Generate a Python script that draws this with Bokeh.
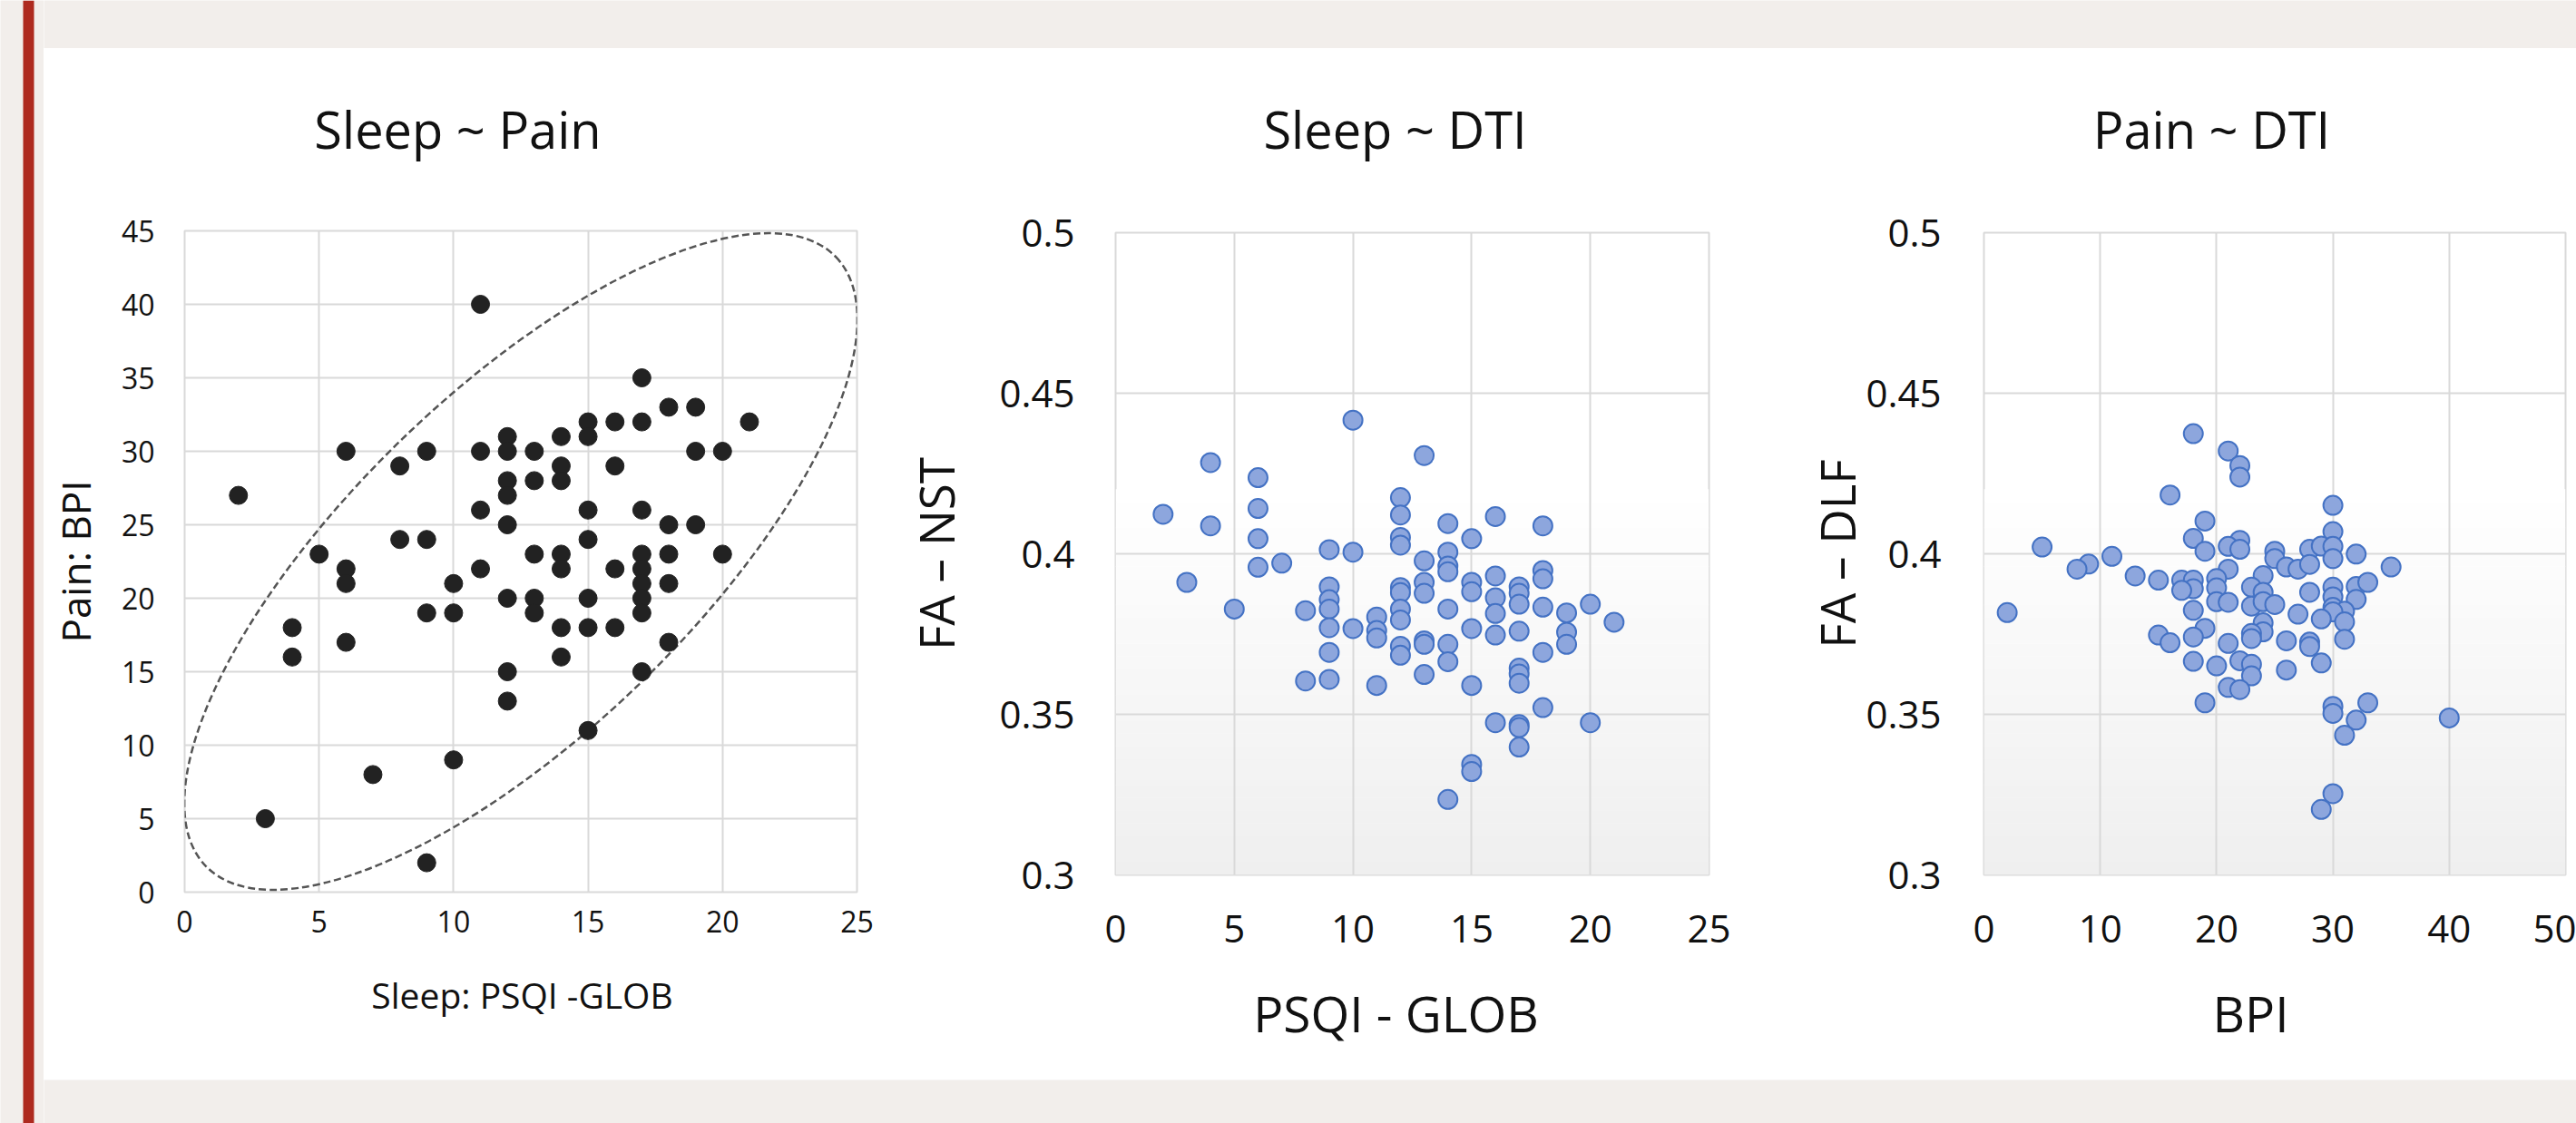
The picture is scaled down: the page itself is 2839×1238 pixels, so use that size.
import math
from bokeh.plotting import figure
from bokeh.layouts import row, column
from bokeh.models import FixedTicker, Range1d
from bokeh.core.properties import value
from bokeh.embed import file_html
from bokeh.resources import INLINE

FONT = "Open Sans"
BEIGE = "#F2EEEB"
RED = "#AE2A1F"
GRID = "#D9D9D9"
TXT = "#111111"

# ---------------- data ----------------
# Panel 1: Sleep ~ Pain
sp_psqi = [11, 2, 3, 9, 7, 10, 15, 4, 4, 5, 6, 6, 6, 6, 8, 8, 9, 9, 9, 10, 10, 11, 11, 11,
           12, 12, 12, 12, 12, 12, 12, 12, 13, 13, 13, 13, 13, 14, 14, 14, 14, 14, 14, 14,
           15, 15, 15, 15, 15, 15, 16, 16, 16, 16, 17, 17, 17, 17, 17, 17, 17, 17, 17,
           18, 18, 18, 18, 18, 19, 19, 19, 20, 20, 21]
sp_bpi = [40, 27, 5, 2, 8, 9, 11, 18, 16, 23, 30, 22, 21, 17, 29, 24, 30, 24, 19, 21, 19, 30, 26, 22,
          31, 30, 28, 27, 25, 20, 15, 13, 30, 28, 23, 20, 19, 31, 29, 28, 23, 22, 18, 16,
          32, 31, 26, 24, 20, 18, 32, 29, 22, 18, 35, 32, 26, 23, 22, 21, 20, 19, 15,
          33, 25, 23, 21, 17, 33, 30, 25, 30, 23, 32]

# Panel 2: Sleep ~ DTI
sd_psqi = [10, 4, 13, 6, 6, 2, 4, 12, 12, 14, 16, 18, 6, 12, 12, 15, 9, 10, 14, 6, 7, 13, 14, 14,
           18, 18, 3, 9, 13, 12, 12, 13, 15, 15, 16, 16, 17, 17, 17, 9, 9, 5, 8, 12, 12, 14, 16,
           18, 19, 20, 21, 9, 10, 11, 11, 11, 15, 16, 17, 19, 19, 12, 12, 13, 13, 14, 9, 18, 14,
           17, 17, 17, 13, 8, 9, 11, 15, 18, 16, 17, 17, 20, 17, 15, 15, 14]
sd_fa_nst = [0.4416, 0.4284, 0.4306, 0.4237, 0.4141, 0.4123, 0.4087, 0.4175, 0.4121, 0.4094,
             0.4116, 0.4087, 0.4047, 0.4051, 0.4027, 0.4047, 0.4013, 0.4005, 0.4005, 0.3958,
             0.3971, 0.3978, 0.3962, 0.3944, 0.3948, 0.3922, 0.3911, 0.3897, 0.3911, 0.3895,
             0.3879, 0.3877, 0.3911, 0.3882, 0.3931, 0.3863, 0.3897, 0.3877, 0.3843, 0.3857,
             0.3828, 0.3828, 0.3823, 0.3828, 0.3794, 0.3828, 0.3814, 0.3834, 0.3816, 0.3843,
             0.3787, 0.3770, 0.3767, 0.3803, 0.3761, 0.3738, 0.3767, 0.3747, 0.3759, 0.3756,
             0.3718, 0.3712, 0.3684, 0.3729, 0.3718, 0.3718, 0.3693, 0.3693, 0.3664, 0.3644,
             0.3626, 0.3597, 0.3624, 0.3604, 0.3609, 0.3590, 0.3590, 0.3521, 0.3474, 0.3468,
             0.3459, 0.3474, 0.3398, 0.3344, 0.3322, 0.3235]

# Panel 3: Pain ~ DTI
pd_bpi = [18, 21, 22, 22, 16, 30, 19, 30, 18, 22, 21, 22, 19, 5, 11, 9, 8, 25, 25, 28,
          29, 30, 30, 32, 26, 27, 28, 35, 21, 13, 15, 17, 18, 18, 17, 20, 20, 24, 23, 24,
          30, 30, 32, 33, 28, 20, 21, 23, 24, 25, 32, 30, 31, 18, 27, 30, 2, 29, 31, 24,
          19, 24, 23, 23, 15, 16, 18, 21, 26, 28, 28, 31, 18, 20, 22, 23, 23, 26, 29, 21,
          22, 19, 33, 30, 30, 32, 40, 31, 30, 29]
pd_fa_dlf = [0.4374, 0.4320, 0.4275, 0.4239, 0.4183, 0.4151, 0.4102, 0.4069, 0.4048, 0.4042,
             0.4023, 0.4014, 0.4008, 0.4021, 0.3992, 0.3968, 0.3952, 0.4008, 0.3985, 0.4014,
             0.4024, 0.4023, 0.3985, 0.3999, 0.3959, 0.3952, 0.3967, 0.3959, 0.3952, 0.3931,
             0.3918, 0.3918, 0.3918, 0.3891, 0.3886, 0.3923, 0.3894, 0.3932, 0.3896, 0.3880,
             0.3896, 0.3866, 0.3898, 0.3911, 0.3880, 0.3851, 0.3849, 0.3837, 0.3851, 0.3842,
             0.3858, 0.3833, 0.3821, 0.3824, 0.3812, 0.3819, 0.3817, 0.3797, 0.3788, 0.3785,
             0.3768, 0.3757, 0.3752, 0.3736, 0.3747, 0.3723, 0.3741, 0.3721, 0.3729, 0.3725,
             0.3711, 0.3734, 0.3665, 0.3651, 0.3667, 0.3656, 0.3620, 0.3638, 0.3660, 0.3584,
             0.3577, 0.3536, 0.3536, 0.3525, 0.3503, 0.3482, 0.3489, 0.3435, 0.3253, 0.3204]

titles = ["Sleep ~ Pain", "Sleep ~ DTI", "Pain ~ DTI"]
x_titles = ["Sleep: PSQI -GLOB", "PSQI - GLOB", "BPI"]
y_titles = ["Pain: BPI", "FA \u2013 NST", "FA \u2013 DLF"]

psqi_ticks = [0, 5, 10, 15, 20, 25]
bpi_ticks_y = [0, 5, 10, 15, 20, 25, 30, 35, 40, 45]
bpi_ticks_x = [0, 10, 20, 30, 40, 50]
fa_ticks = [0.3, 0.35, 0.4, 0.45, 0.5]
fa_labels = ["0.3", "0.35", "0.4", "0.45", "0.5"]

# confidence ellipse of panel 1 (centre in data units, axes in screen px)
ell_cx, ell_cy = 12.5, 22.5
ell_major, ell_minor, ell_angle_deg = 966, 376, 44.05

# ---------------- page geometry (px) ----------------
COLS = [(48, 990), (990, 1960), (1960, 2839)]      # horizontal extent of each panel column
TOP_Y, PLOT_TOP, BOT_Y = 53, 203, 1190
PLOT_BOTTOM = [1055, 1075, 1075]                    # where each plot strip ends
TITLE_POS = [(504, 141), (1537, 141), (2437, 141)]
XLAB_POS = [(575, 1096), (1538, 1116), (2480, 1116)]


def base_fig(width, height, **kw):
    p = figure(width=width, height=height, toolbar_location=None, output_backend="svg", **kw)
    try:
        p.frame_align = False
    except Exception:
        pass
    return p


def text_strip(xs, ys, txt, pos, size, fill="white"):
    f = base_fig(xs[1] - xs[0], ys[1] - ys[0], x_range=Range1d(xs[0], xs[1]),
                 y_range=Range1d(ys[1], ys[0]), min_border=0,
                 x_axis_location=None, y_axis_location=None)
    f.grid.visible = False
    f.outline_line_color = None
    f.background_fill_color = fill
    f.border_fill_color = fill
    f.text(x=[pos[0]], y=[pos[1]], text=[txt], text_align="center", text_baseline="alphabetic",
           text_font=value(FONT), text_font_size=size, text_color=TXT)
    return f


def styled_panel(xs, ys, mb, xr, yr, xt, yt, ylabel, tick_px, ylab_px,
                 x_stand, y_stand, yl_stand, ylab_over=None):
    p = base_fig(xs[1] - xs[0], ys[1] - ys[0], x_range=Range1d(*xr), y_range=Range1d(*yr),
                 min_border_left=mb[0], min_border_right=mb[1],
                 min_border_top=mb[2], min_border_bottom=mb[3])
    p.background_fill_color = "white"
    p.border_fill_color = "white"
    p.outline_line_color = GRID
    p.outline_line_width = 2
    p.xaxis.ticker = FixedTicker(ticks=xt)
    p.yaxis.ticker = FixedTicker(ticks=yt)
    p.xgrid.ticker = FixedTicker(ticks=xt)
    p.ygrid.ticker = FixedTicker(ticks=yt)
    if ylab_over:
        p.yaxis.major_label_overrides = ylab_over
    for g in (p.xgrid, p.ygrid):
        g.grid_line_color = GRID
        g.grid_line_width = 2
    for ax in (p.xaxis, p.yaxis):
        ax.axis_line_color = None
        ax.major_tick_line_color = None
        ax.minor_tick_line_color = None
        ax.major_tick_out = 0
        ax.major_tick_in = 0
        ax.major_label_text_font = FONT
        ax.major_label_text_font_size = tick_px
        ax.major_label_text_color = TXT
        ax.axis_label_text_font = FONT
        ax.axis_label_text_font_style = "normal"
        ax.axis_label_text_color = TXT
    p.yaxis.axis_label_text_font_size = ylab_px
    p.xaxis.major_label_standoff = x_stand
    p.yaxis.major_label_standoff = y_stand
    p.yaxis.axis_label_standoff = yl_stand
    p.yaxis.axis_label = ylabel
    return p


def add_gradient(p, lo, hi_white, n=30):
    # vertical light-grey to white fill of the plot area (styling only)
    step = (hi_white - lo) / n
    bottoms, tops, cols = [], [], []
    for i in range(n):
        t = i / (n - 1)
        c = int(round(239 + (255 - 239) * t))
        bottoms.append(lo + i * step)
        tops.append(lo + (i + 1) * step + 1e-4)
        cols.append("#%02x%02x%02x" % (c, c, c))
    r = p.quad(left=p.x_range.start, right=p.x_range.end, bottom=bottoms, top=tops,
               fill_color=cols, line_color=None)
    r.level = "image"


# ---------------- panel 1 ----------------
p1 = styled_panel(COLS[0], (PLOT_TOP, PLOT_BOTTOM[0]), (155, 46, 51, PLOT_BOTTOM[0] - 983),
                  (0, 25), (0, 45), psqi_ticks, bpi_ticks_y,
                  y_titles[0], "32px", "44px", 20, 33, 18)
p1.ellipse(x=[ell_cx], y=[ell_cy], width=[ell_major], height=[ell_minor],
           angle=[math.radians(ell_angle_deg)], width_units="screen", height_units="screen",
           fill_color=None, line_color="#555555", line_width=2.5, line_dash="8 4")
p1.scatter(sp_psqi, sp_bpi, size=20, fill_color="#222222", line_color="#222222")

# ---------------- panel 2 ----------------
over = {t: l for t, l in zip(fa_ticks, fa_labels)}
p2 = styled_panel(COLS[1], (PLOT_TOP, PLOT_BOTTOM[1]), (239, 77, 53, PLOT_BOTTOM[1] - 964),
                  (0, 25), (0.3, 0.5), psqi_ticks, fa_ticks,
                  y_titles[1], "42px", "53px", 44, 45, 30, over)
add_gradient(p2, 0.3, 0.42)
p2.scatter(sd_psqi, sd_fa_nst, size=21, fill_color="#8DA6DD", line_color="#4472C4", line_width=2)

# ---------------- panel 3 ----------------
p3 = styled_panel(COLS[2], (PLOT_TOP, PLOT_BOTTOM[2]), (226, 12, 53, PLOT_BOTTOM[2] - 964),
                  (0, 50), (0.3, 0.5), bpi_ticks_x, fa_ticks,
                  y_titles[2], "42px", "53px", 44, 47, -8, over)
add_gradient(p3, 0.3, 0.42)
p3.scatter(pd_bpi, pd_fa_dlf, size=21, fill_color="#8DA6DD", line_color="#4472C4", line_width=2)

panels = [p1, p2, p3]
xlab_sizes = ["39px", "55px", "55px"]
cols = []
for i in range(3):
    t = text_strip(COLS[i], (TOP_Y, PLOT_TOP), titles[i], TITLE_POS[i], "56px")
    xl = text_strip(COLS[i], (PLOT_BOTTOM[i], BOT_Y), x_titles[i], XLAB_POS[i], xlab_sizes[i])
    cols.append(column(t, panels[i], xl, spacing=0))

# ---------------- frame decorations ----------------
left = base_fig(48, 1238, x_range=Range1d(0, 48), y_range=Range1d(0, 1), min_border=0,
                x_axis_location=None, y_axis_location=None)
left.grid.visible = False
left.outline_line_color = None
left.background_fill_color = BEIGE
left.border_fill_color = BEIGE
left.quad(left=[25], right=[37], bottom=[0], top=[1], fill_color=RED, line_color=None)


def band(h):
    b = base_fig(2791, h, x_range=Range1d(0, 1), y_range=Range1d(0, 1), min_border=0,
                 x_axis_location=None, y_axis_location=None)
    b.grid.visible = False
    b.outline_line_color = None
    b.background_fill_color = BEIGE
    b.border_fill_color = BEIGE
    return b


top = band(TOP_Y)
bottom = band(1238 - BOT_Y)

layout = row(left, column(top, row(*cols, spacing=0), bottom, spacing=0), spacing=0)

open("out.html", "w").write(file_html(layout, INLINE))
